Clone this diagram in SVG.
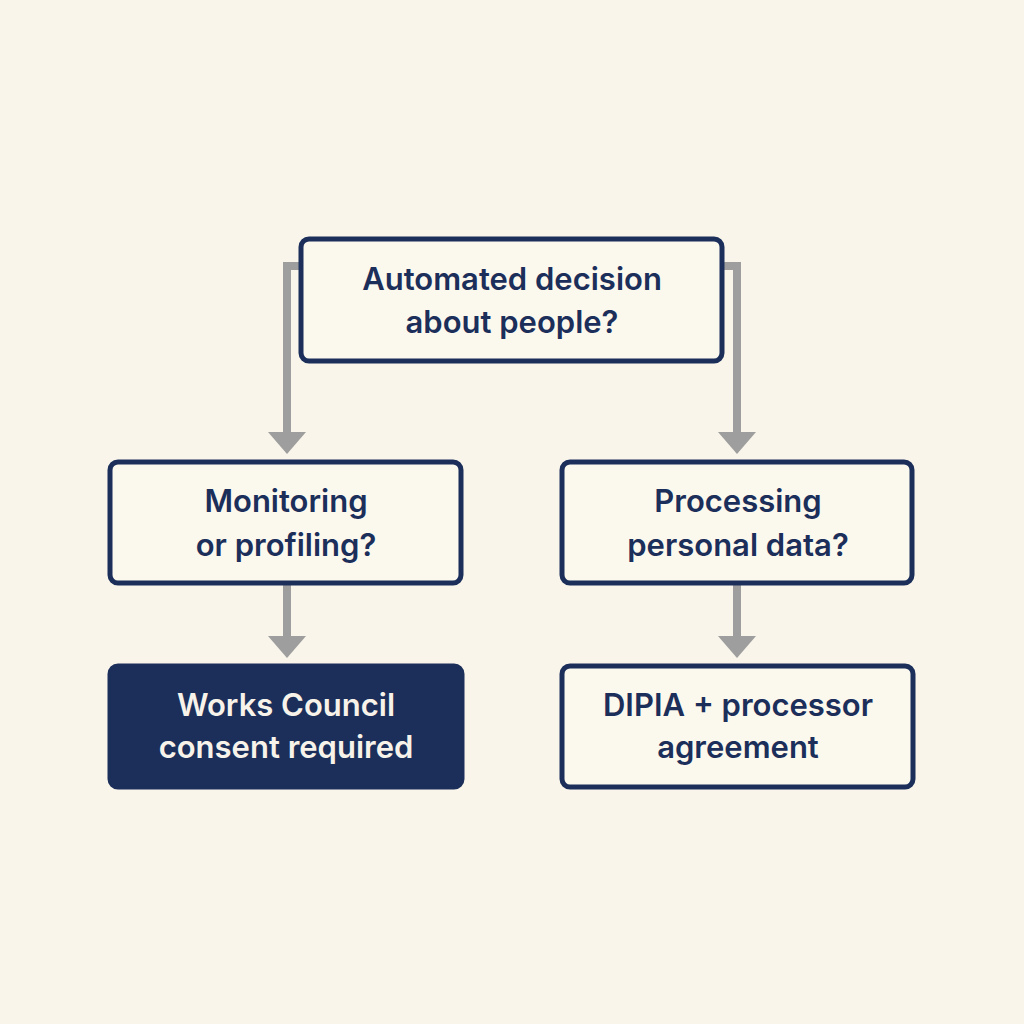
<svg xmlns="http://www.w3.org/2000/svg" width="1024" height="1024" viewBox="0 0 1024 1024">
<style>
.box{fill:#fbf8ee;stroke:#1b2f5a;stroke-width:5}
.dark{fill:#1b2f5a;stroke:#1b2f5a;stroke-width:3}
.t{font-family:Inter,"Liberation Sans",sans-serif;font-weight:600;font-size:31px;fill:#1b2f5a;text-anchor:middle}
.w{fill:#f7f3ea}
.c{fill:none;stroke:#9e9e9e;stroke-width:8}
.h{fill:#9e9e9e}
</style>
<rect width="1024" height="1024" fill="#f9f5ea"/>
<g id="connectors">
<path class="c" d="M302 266 H287 V436"/>
<polygon class="h" points="268,432 306,432 287,454"/>
<path class="c" d="M721 266 H737 V436"/>
<polygon class="h" points="718,432 756,432 737,454"/>
<path class="c" d="M287 585 V640"/>
<polygon class="h" points="268,636 306,636 287,658"/>
<path class="c" d="M737 585 V640"/>
<polygon class="h" points="718,636 756,636 737,658"/>
</g>
<g id="n1">
<rect class="box" x="301" y="239" width="421" height="122" rx="8"/>
<text class="t" x="512" y="290">Automated decision</text>
<text class="t" x="512" y="333">about people?</text>
</g>
<g id="n2">
<rect class="box" x="110" y="462" width="351" height="121" rx="8"/>
<text class="t" x="286" y="512">Monitoring</text>
<text class="t" x="286" y="556">or profiling?</text>
</g>
<g id="n3">
<rect class="box" x="562" y="462" width="350" height="121" rx="8"/>
<text class="t" x="738" y="512">Processing</text>
<text class="t" x="738" y="556">personal data?</text>
</g>
<g id="n4">
<rect class="dark" x="109" y="665" width="354" height="123" rx="9"/>
<text class="t w" x="286" y="716">Works Council</text>
<text class="t w" x="286" y="758">consent required</text>
</g>
<g id="n5">
<rect class="box" x="562" y="666" width="351" height="121" rx="8"/>
<text class="t" x="738" y="716">DIPIA + processor</text>
<text class="t" x="738" y="758">agreement</text>
</g>
</svg>
